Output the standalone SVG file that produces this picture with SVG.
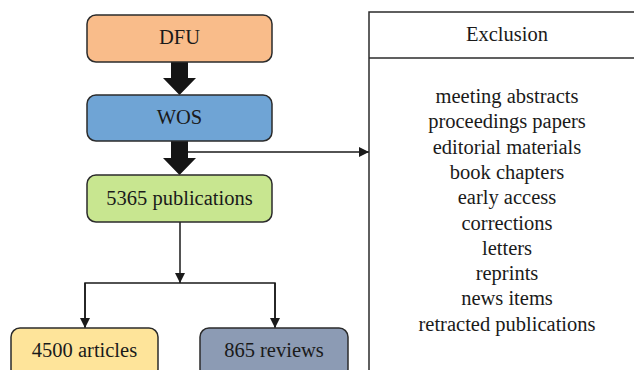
<svg xmlns="http://www.w3.org/2000/svg" width="634" height="370" viewBox="0 0 634 370">
<defs>
<style>
.box{stroke:#2b2b2b;stroke-width:1.5}
.t{font-family:'Liberation Serif','Times New Roman',serif;font-size:20.5px;fill:#1a1a1a;text-anchor:middle}
.ln{stroke:#1a1a1a;stroke-width:1.5;fill:none}
.fat{fill:#151515}
</style>
<marker id="ah" markerWidth="10" markerHeight="10" refX="10" refY="5" orient="auto" markerUnits="userSpaceOnUse">
<path d="M0,0 L10,5 L0,10 Z" fill="#1a1a1a"/>
</marker>
</defs>
<rect width="634" height="370" fill="#fff"/>
<g id="connectors">
<polygon class="fat" points="171,62 188,62 188,78 196,78 179.5,95 163,78 171,78"/>
<polygon class="fat" points="171,141 188,141 188,158 196,158 179.5,175 163,158 171,158"/>
<line class="ln" x1="188" y1="152" x2="369" y2="152" marker-end="url(#ah)"/>
<line class="ln" x1="180" y1="222" x2="180" y2="283" marker-end="url(#ah)"/>
<polyline class="ln" points="85,327 85,283 275,283 275,327"/>
<line class="ln" x1="85" y1="283" x2="85" y2="328" marker-end="url(#ah)"/>
<line class="ln" x1="275" y1="283" x2="275" y2="328" marker-end="url(#ah)"/>
</g>
<g id="dfu">
<rect class="box" x="87" y="15" width="185" height="47" rx="9" fill="#F9BC8A"/>
<text class="t" x="179.5" y="44">DFU</text>
</g>
<g id="wos">
<rect class="box" x="87" y="95" width="185" height="46" rx="9" fill="#6FA4D5"/>
<text class="t" x="179.5" y="124">WOS</text>
</g>
<g id="publications">
<rect class="box" x="87" y="175" width="185" height="47" rx="9" fill="#C8E690"/>
<text class="t" x="179.5" y="205">5365 publications</text>
</g>
<g id="articles">
<rect class="box" x="11" y="328" width="147" height="50" rx="9" fill="#FEE49A"/>
<text class="t" x="84.5" y="357">4500 articles</text>
</g>
<g id="reviews">
<rect class="box" x="200" y="328" width="148" height="50" rx="9" fill="#8C9BB4"/>
<text class="t" x="274" y="357">865 reviews</text>
</g>
<g id="exclusion">
<rect class="box" x="369" y="12" width="290" height="380" fill="#fff"/>
<line class="box" x1="369" y1="58" x2="640" y2="58"/>
<text class="t" x="507" y="41">Exclusion</text>
<text class="t" x="507" y="103">meeting abstracts</text>
<text class="t" x="507" y="128.3">proceedings papers</text>
<text class="t" x="507" y="153.6">editorial materials</text>
<text class="t" x="507" y="178.9">book chapters</text>
<text class="t" x="507" y="204.2">early access</text>
<text class="t" x="507" y="229.5">corrections</text>
<text class="t" x="507" y="254.8">letters</text>
<text class="t" x="507" y="280.1">reprints</text>
<text class="t" x="507" y="305.4">news items</text>
<text class="t" x="507" y="330.7">retracted publications</text>
</g>
</svg>
